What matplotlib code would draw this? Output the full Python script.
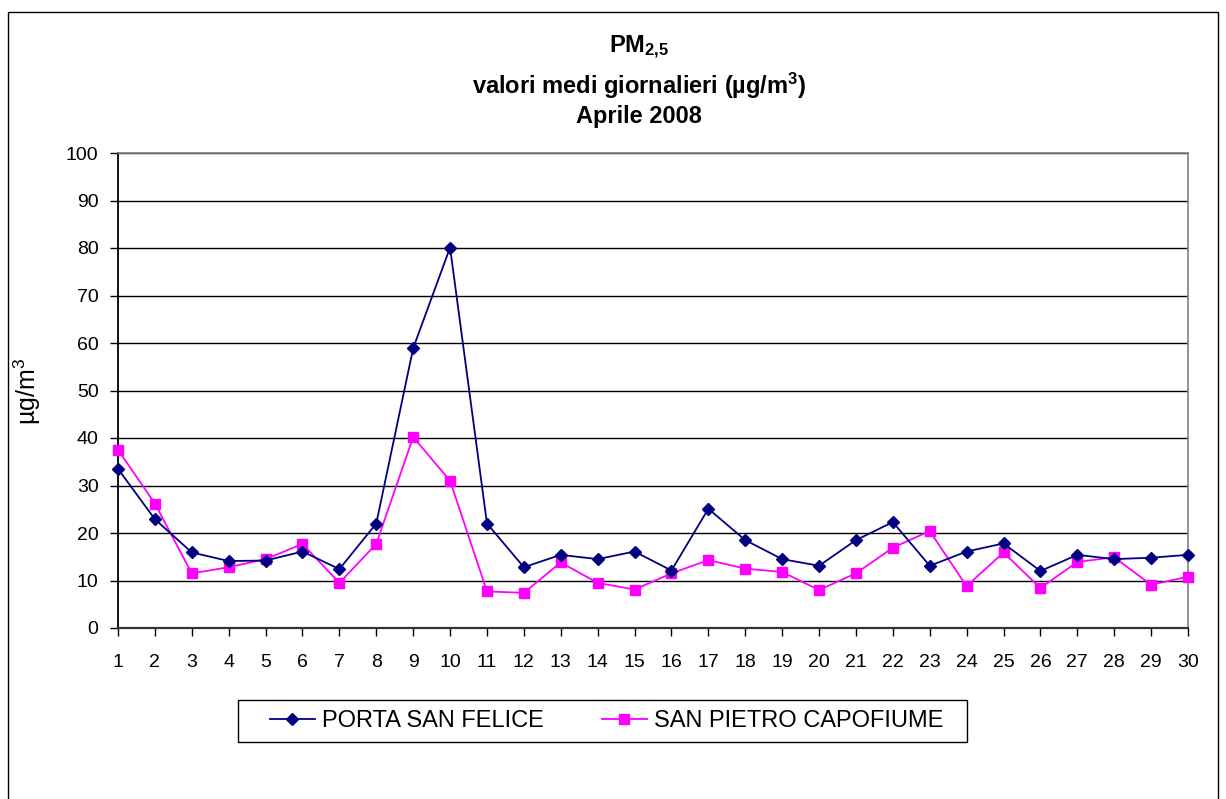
import matplotlib
matplotlib.use("Agg")
import matplotlib.pyplot as plt
from matplotlib.patches import Rectangle
from matplotlib.lines import Line2D

plt.rcParams['font.family'] = ['Liberation Sans', 'DejaVu Sans']
plt.rcParams['mathtext.fontset'] = 'custom'
plt.rcParams['mathtext.rm'] = 'Liberation Sans'
plt.rcParams['mathtext.it'] = 'Liberation Sans:italic'
plt.rcParams['mathtext.bf'] = 'Liberation Sans:bold'

days = list(range(1, 31))
porta_san_felice = [33.5, 22.9, 15.9, 14.1, 14.2, 16.1, 12.4, 22.0, 58.9, 80.1,
                    22.0, 12.8, 15.4, 14.5, 16.1, 12.1, 25.1, 18.5, 14.5, 13.1,
                    18.5, 22.3, 13.1, 16.1, 17.8, 12.0, 15.4, 14.5, 14.8, 15.4]
san_pietro_capofiume = [37.5, 26.2, 11.5, 12.8, 14.5, 17.7, 9.5, 17.7, 40.2, 31.0,
                        7.7, 7.4, 13.8, 9.5, 8.1, 11.5, 14.3, 12.5, 11.8, 8.0,
                        11.5, 16.9, 20.4, 8.8, 15.9, 8.4, 13.9, 14.9, 9.1, 10.8]
series_names = ['PORTA SAN FELICE', 'SAN PIETRO CAPOFIUME']
yticks = list(range(0, 101, 10))

W, H = 1226, 799
fig = plt.figure(figsize=(W / 100, H / 100), dpi=100)
fig.patch.set_facecolor('white')

# outer chart border
fig.patches.append(Rectangle((8 / W, -0.05), (1218 - 8) / W, 1 - 12 / H + 0.05,
                             transform=fig.transFigure, fill=False,
                             edgecolor='black', linewidth=1.0))

ax = fig.add_axes([118 / W, 1 - 628 / H, (1188 - 118) / W, (628 - 153) / H])

ax.plot(days, porta_san_felice, color='#000080', marker='D', markersize=6.5,
        linewidth=1.3, clip_on=False, zorder=4, label=series_names[0])
ax.plot(days, san_pietro_capofiume, color='#FF00FF', marker='s', markersize=7,
        linewidth=1.3, clip_on=False, zorder=3, label=series_names[1])

ax.set_xlim(1, 30)
ax.set_ylim(0, 100)
ax.set_xticks(days)
ax.set_xticklabels([str(d) for d in days])
ax.set_yticks(yticks)
ax.set_yticklabels([str(v) for v in yticks])
ax.tick_params(axis='both', labelsize=14, colors='black', width=1.0)
ax.tick_params(axis='x', length=6, pad=13)
ax.tick_params(axis='y', length=6, pad=8)
ax.grid(axis='y', color='black', linewidth=1.0)
ax.set_axisbelow(True)
ax.spines['top'].set_color('#808080')
ax.spines['top'].set_linewidth(1.2)
ax.spines['right'].set_color('#808080')
ax.spines['right'].set_linewidth(1.2)
ax.spines['left'].set_linewidth(1.3)
ax.spines['bottom'].set_linewidth(1.6)
ax.spines['bottom'].set_color('#333333')

fig.text(27 / W, 1 - 391 / H, 'µg/m$^3$', rotation=90, ha='center', va='center',
         fontsize=18)

# title
cx = 639 / W
fig.text(cx, 1 - 47 / H, r'$\mathbf{PM_{2{,}5}}$', ha='center', va='center', fontsize=17)
fig.text(cx, 1 - 86 / H, r'valori medi giornalieri (µg/m$^{\mathbf{3}}$)', ha='center',
         va='center', fontsize=17, fontweight='bold')
fig.text(cx, 1 - 117 / H, 'Aprile 2008', ha='center', va='center', fontsize=17,
         fontweight='bold')

# legend
fig.patches.append(Rectangle((238 / W, 1 - 742 / H), (967 - 238) / W, 42 / H,
                             transform=fig.transFigure, fill=False,
                             edgecolor='black', linewidth=1.0))
handles = [Line2D([], [], color='#000080', marker='D', markersize=6.5, linewidth=1.3),
           Line2D([], [], color='#FF00FF', marker='s', markersize=7, linewidth=1.3)]
leg = fig.legend(handles, series_names, loc='center left',
                 bbox_to_anchor=(270 / W, 1 - 721 / H), ncol=2,
                 fontsize=17, frameon=False, handlelength=1.9,
                 columnspacing=2.45, borderpad=0, borderaxespad=0, handletextpad=0.3)

fig.savefig('out.png', dpi=100, facecolor='white')
